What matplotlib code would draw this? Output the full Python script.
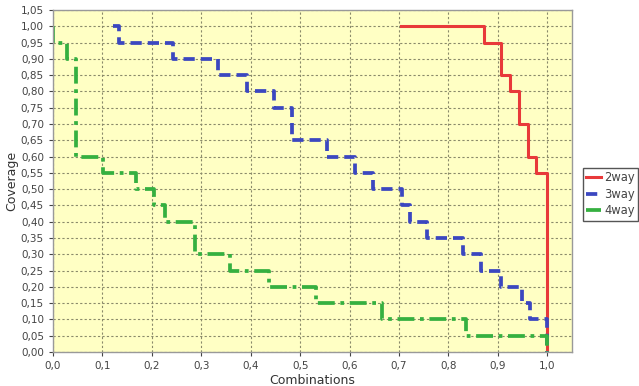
import matplotlib
matplotlib.use("Agg")
import matplotlib.pyplot as plt
from matplotlib.ticker import MultipleLocator, FuncFormatter

# Coverage steps
x_2way = [0.705, 0.871, 0.907, 0.925, 0.943, 0.961, 0.978, 1.0]
y_2way = [1.00, 0.95, 0.85, 0.80, 0.70, 0.60, 0.55, 0.00]

x_3way = [0.122, 0.133, 0.242, 0.334, 0.393, 0.447, 0.483, 0.555, 0.610, 0.647,
          0.706, 0.722, 0.757, 0.830, 0.866, 0.906, 0.948, 0.966, 1.0]
y_3way = [1.00, 0.95, 0.90, 0.85, 0.80, 0.75, 0.65, 0.60, 0.55, 0.50,
          0.45, 0.40, 0.35, 0.30, 0.25, 0.20, 0.15, 0.10, 0.00]

x_4way = [0.0, 0.0, 0.028, 0.046, 0.102, 0.168, 0.204, 0.226, 0.287, 0.359,
          0.438, 0.533, 0.665, 0.836, 1.0]
y_4way = [1.00, 0.95, 0.90, 0.60, 0.55, 0.50, 0.45, 0.40, 0.30, 0.25,
          0.20, 0.15, 0.10, 0.05, 0.00]

fig = plt.figure(figsize=(6.39, 3.86), dpi=100)
ax = fig.add_axes([53 / 639, 1 - 352 / 386, (572 - 53) / 639, (352 - 10) / 386])
ax.set_facecolor("#FFFFC4")

ax.step(x_2way, y_2way, where="post", color="#E8393A", lw=2.2, label="2way")
ax.step(x_3way, y_3way, where="post", color="#3B47C0", lw=2.7,
        dashes=(3, 1.6), label="3way")
ax.step(x_4way, y_4way, where="post", color="#35B040", lw=2.7,
        dashes=(4.5, 1.5, 1, 1.5), label="4way")

ax.set_xlim(0, 1.05)
ax.set_ylim(0, 1.05)
ax.xaxis.set_major_locator(MultipleLocator(0.1))
ax.yaxis.set_major_locator(MultipleLocator(0.05))
ax.xaxis.set_major_formatter(FuncFormatter(lambda v, p: f"{v:.1f}".replace(".", ",")))
ax.yaxis.set_major_formatter(FuncFormatter(lambda v, p: f"{v:.2f}".replace(".", ",")))
ax.tick_params(labelsize=7.5, colors="#444444", length=3, width=0.8)

ax.grid(True, color="#8A8A6A", linestyle=(0, (2, 2)), linewidth=0.8)
for s in ax.spines.values():
    s.set_color("#999999")
    s.set_linewidth(1.0)

ax.set_xlabel("Combinations", fontsize=9, color="#333333", labelpad=2)
ax.set_ylabel("Coverage", fontsize=9, color="#333333", labelpad=2)

leg = fig.legend(loc="upper left", bbox_to_anchor=(583 / 639, 1 - 168 / 386),
                 fontsize=8.3, handlelength=1.3, handletextpad=0.25,
                 borderpad=0.3, labelspacing=0.3, fancybox=False,
                 framealpha=1, borderaxespad=0)
leg.get_frame().set_edgecolor("#555555")
leg.get_frame().set_linewidth(1.0)
for t in leg.get_texts():
    t.set_color("#444444")

fig.savefig("out.png", dpi=100)
